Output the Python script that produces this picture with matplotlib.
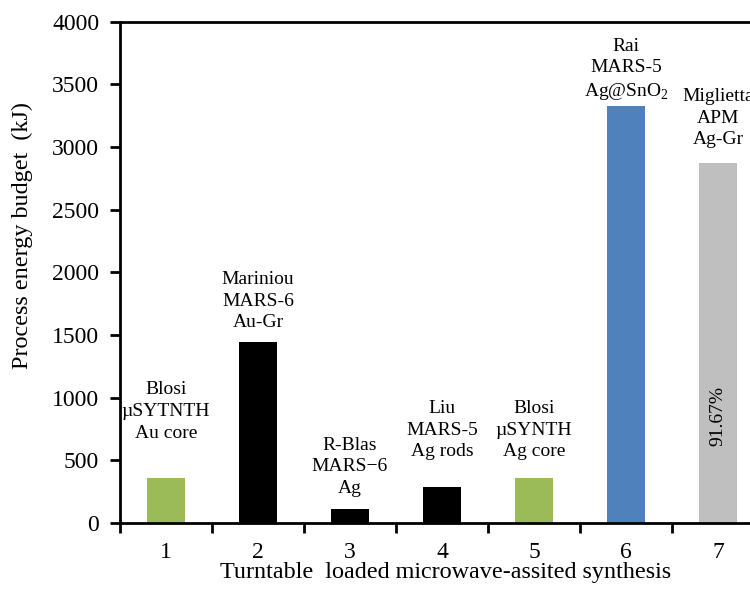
import numpy as np
import matplotlib
matplotlib.use('Agg')
import matplotlib.pyplot as plt

plt.rcParams['font.family'] = ['Liberation Serif', 'DejaVu Serif']
plt.rcParams['mathtext.fontset'] = 'custom'
plt.rcParams['mathtext.rm'] = 'Liberation Serif'

# 데이터
categories = [1, 2, 3, 4, 5, 6, 7]
energy_kj = [360, 1440, 115, 285, 360, 3330, 2875]
bar_labels = [
    'Blosi\nµSYTNTH\nAu core',
    'Mariniou\nMARS-6\nAu-Gr',
    'R-Blas\nMARS\u22126\nAg',
    'Liu\nMARS-5\nAg rods',
    'Blosi\nµSYNTH\nAg core',
    'Rai\nMARS-5\nAg@SnO$_2$',
    'Miglietta\nAPM\nAg-Gr',
]
bar_colors = ['#9BBB59', '#000000', '#000000', '#000000', '#9BBB59', '#4F81BD', '#BFBFBF']
inside_note = '91.67%'

# 라벨 위치 (막대 위 간격)
label_gap = [290, 90, 95, 215, 140, 25, 115]

fig = plt.figure(figsize=(7.5, 5.94), dpi=100)
ax = fig.add_axes([0.16, 0.1195, 0.84, 0.8443])

x = np.array(categories)
ax.bar(x, energy_kj, width=0.41, color=bar_colors)

for xi, v, lab, g in zip(x, energy_kj, bar_labels, label_gap):
    ax.text(xi, v + g, lab, ha='center', va='bottom', fontsize=14,
            linespacing=1.35)

ax.text(x[-1], 855, inside_note, rotation=90, ha='center', va='center', fontsize=14)

ax.set_yticks(np.arange(0, 4001, 500))
ax.set_xticks(x)
ax.set_xticklabels([str(c) for c in categories])
ax.set_xticks(np.arange(0.5, 7.6, 1), minor=True)
# 오른쪽이 잘린 원본에 맞춤 (틱 설정 뒤에 범위 지정)
ax.set_ylim(0, 4000)
ax.set_xlim(0.5, 7.348)
ax.tick_params(axis='x', which='major', length=0, labelsize=17, pad=14)
ax.tick_params(axis='x', which='minor', length=7, width=2, direction='out')
ax.tick_params(axis='y', which='major', length=7, width=2, labelsize=17,
               direction='out', pad=8)

ax.set_ylabel('Process energy budget  (kJ)', fontsize=17.4)
ax.yaxis.set_label_coords(-0.138, 0.574)
ax.set_xlabel('Turntable  loaded microwave-assited synthesis', fontsize=17.4)
ax.xaxis.set_label_coords(0.516, -0.078)

for s in ['left', 'bottom', 'top']:
    ax.spines[s].set_linewidth(2)
ax.spines['right'].set_visible(False)

fig.savefig('out.png', dpi=100)
